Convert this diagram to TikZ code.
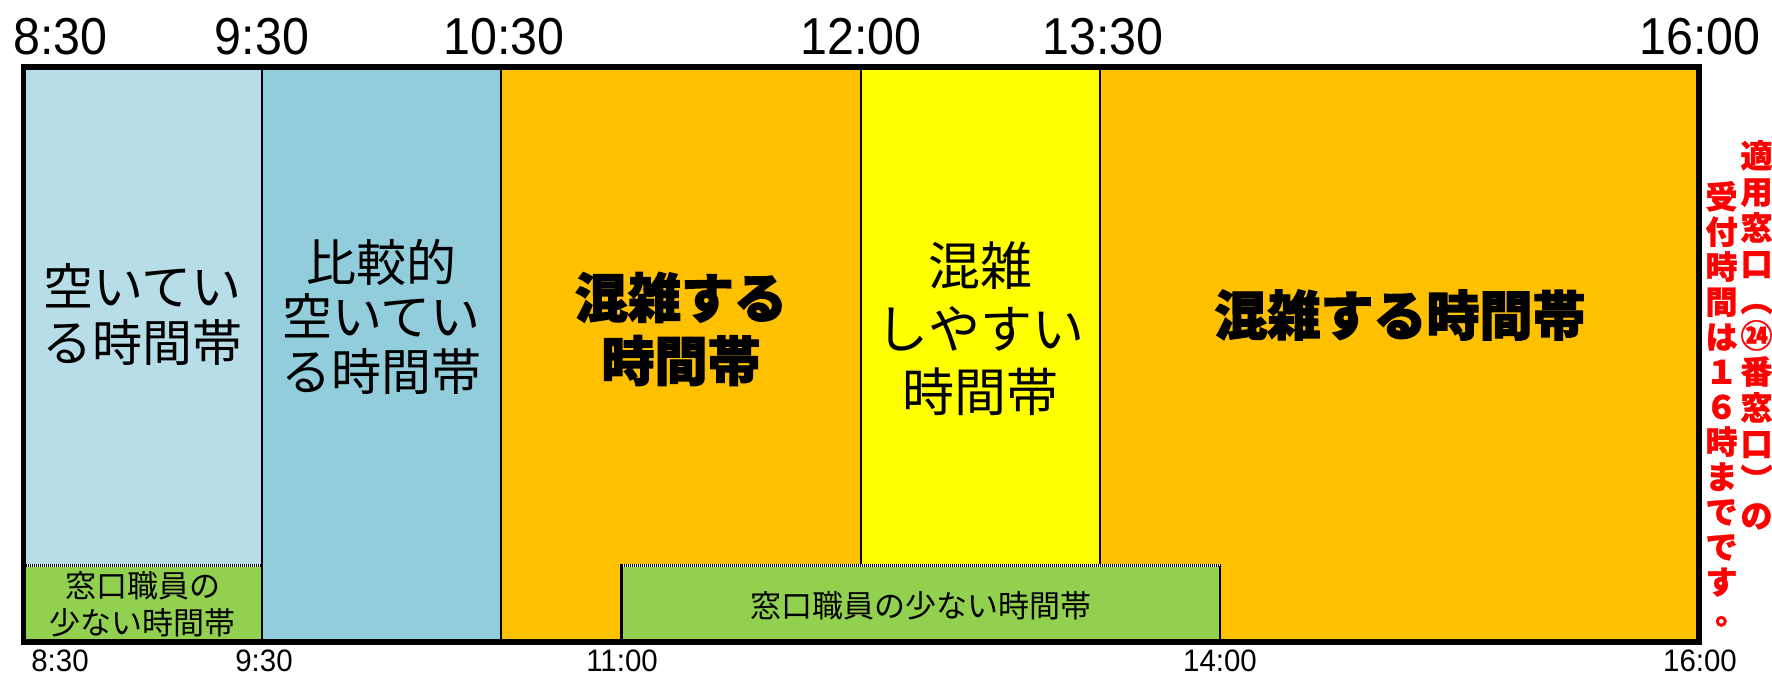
\documentclass[tikz,border=0pt]{standalone}
\usepackage{fontspec}
\newfontfamily\cjk{Noto Sans CJK JP}
\newfontfamily\cjkheavy{Noto Sans CJK JP}[FakeBold=2.5]
\newfontfamily\cjkred{Noto Sans CJK JP}[FakeBold=1]
\newfontfamily\numtop{Liberation Sans}[FakeStretch=0.93]
\newfontfamily\numbot{Liberation Sans}[FakeStretch=0.95]
\definecolor{cLightBlue}{HTML}{B7DEE8}
\definecolor{cMidBlue}{HTML}{92CDDC}
\definecolor{cOrange}{HTML}{FFC000}
\definecolor{cYellow}{HTML}{FFFF00}
\definecolor{cGreen}{HTML}{92D050}
\definecolor{cRed}{HTML}{FF0000}
\tikzset{
  divider/.style={draw=black, line width=2.5pt},
  frameline/.style={draw=black, line width=5.5pt},
  toplab/.style={font=\numtop\fontsize{52}{52}\selectfont, anchor=base, inner sep=0pt},
  botlab/.style={font=\numbot\fontsize{31}{31}\selectfont, anchor=base, inner sep=0pt},
  bandtext/.style={font=\cjk\fontsize{50}{56}\selectfont, align=center, inner sep=0pt},
  heavytext/.style={font=\cjkheavy\bfseries\fontsize{53}{63}\selectfont, align=center, inner sep=0pt},
  greentext/.style={font=\cjk\fontsize{31}{37}\selectfont, align=center, inner sep=0pt},
  redcol/.style={font=\cjkred\bfseries\fontsize{32}{36}\selectfont, text=cRed, align=center, inner sep=0pt, anchor=north},
  dotwhite/.style={draw=white, line width=3pt},
  dotblack/.style={draw=black, line width=3pt, dash pattern=on 1pt off 1pt},
}
\begin{document}
\begin{tikzpicture}[x=1pt,y=-1pt]
\useasboundingbox (0,0) rectangle (1772,676);
% column fills
\fill[cLightBlue] (23.5,67) rectangle (262,642);
\fill[cMidBlue] (262,67) rectangle (501,642);
\fill[cOrange] (501,67) rectangle (861,642);
\fill[cYellow] (861,67) rectangle (1100,642);
\fill[cOrange] (1100,67) rectangle (1699,642);
% dividers hidden under the lower green band
\draw[divider] (861,67) -- (861,642);
\draw[divider] (1100,67) -- (1100,642);
% green band 1
\fill[cGreen] (23.5,565.5) rectangle (262,642);
\draw[dotwhite] (23.5,565.5) -- (262,565.5);
\draw[dotblack] (23.5,565.5) -- (262,565.5);
% green band 2
\fill[cGreen] (621.5,565.5) rectangle (1220,642);
\draw[dotwhite] (621.5,565.5) -- (1220,565.5);
\draw[dotblack] (621.5,565.5) -- (1220,565.5);
\draw[divider] (621.5,564) -- (621.5,642);
\draw[divider, line width=1.5pt] (1220,565.5) -- (1220,642);
% dividers that run to the bottom
\draw[divider] (262,67) -- (262,642);
\draw[divider] (501,67) -- (501,642);
% frame
\draw[frameline] (23.5,67) rectangle (1699,642);
% top time labels
\node[toplab] (t0830) at (60.5,55) {8:30};
\node[toplab] (t0930) at (262,55) {9:30};
\node[toplab] (t1030) at (504,55) {10:30};
\node[toplab] (t1200) at (861,55) {12:00};
\node[toplab] (t1330) at (1103,55) {13:30};
\node[toplab] (t1600) at (1700,55) {16:00};
% bottom time labels
\node[botlab] (b0830) at (60,671) {8:30};
\node[botlab] (b0930) at (264,671) {9:30};
\node[botlab] (b1100) at (622,671) {11:00};
\node[botlab] (b1400) at (1220,671) {14:00};
\node[botlab] (b1600) at (1700,671) {16:00};
% band texts
\node[bandtext] (c1) at (142.5,315) {空いてい\\る時間帯};
\node[bandtext, font=\cjk\fontsize{50}{54.5}\selectfont] (c2) at (381.5,316.5) {比較的\\空いてい\\る時間帯};
\node[heavytext] (c3) at (681,329) {混雑する\\時間帯};
\node[bandtext, font=\cjk\fontsize{52}{63}\selectfont] (c4) at (980.5,329) {混雑\\しやすい\\時間帯};
\node[heavytext] (c5) at (1400,315) {混雑する時間帯};
% green texts
\node[greentext] (g1) at (142.5,604) {窓口職員の\\少ない時間帯};
\node[greentext] (g2) at (920.5,606) {窓口職員の少ない時間帯};
% red vertical note
\node[redcol] (rR) at (1756.5,140) {適\\用\\窓\\口\\︵\\㉔\\番\\窓\\口\\︶\\の};
\node[redcol, font=\cjkred\bfseries\fontsize{32}{35}\selectfont] (rL) at (1721.5,181) {受\\付\\時\\間\\は\\１\\６\\時\\ま\\で\\で\\す\\\makebox[1em][l]{\hspace*{0.3em}\raisebox{0.15em}{。}}};
\end{tikzpicture}
\end{document}
